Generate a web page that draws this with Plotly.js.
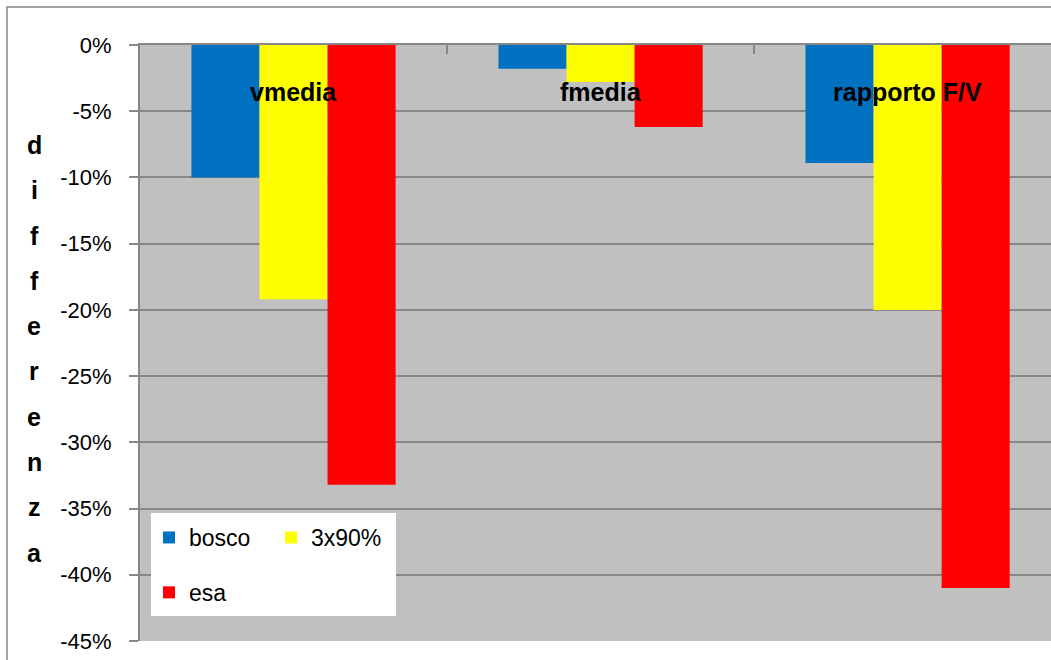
<!DOCTYPE html>
<html>
<head>
<meta charset="utf-8">
<script src="https://cdn.plot.ly/plotly-3.0.1.min.js"></script>
<style>html,body{margin:0;padding:0;background:#fff;}#chart{width:1051px;height:660px;}</style>
</head>
<body>
<div id="chart"></div>
<script>
// ---- data (values in %) ----
const categories = ['vmedia', 'fmedia', 'rapporto F/V'];
const seriesNames = ['bosco', '3x90%', 'esa'];
const bosco = [-10.0, -1.8, -8.9];
const tre90 = [-19.2, -2.8, -20.0];
const esa = [-33.2, -6.2, -41.0];
const yTickVals = [0, -5, -10, -15, -20, -25, -30, -35, -40, -45];
const yTickText = ['0%', '-5%', '-10%', '-15%', '-20%', '-25%', '-30%', '-35%', '-40%', '-45%'];
const yTitle = 'differenza';

const colors = ['#0070C0', '#FFFF00', '#FF0000'];
const FONT = 'Liberation Sans, Arial, sans-serif';

const traces = [
  {type: 'bar', name: seriesNames[0], x: categories, y: bosco, marker: {color: colors[0], line: {width: 0}},
   legend: 'legend', legendgroup: 'g1'},
  {type: 'bar', name: seriesNames[1], x: categories, y: tre90, marker: {color: colors[1], line: {width: 0}},
   legend: 'legend2', legendgroup: 'g2'},
  {type: 'bar', name: seriesNames[2], x: categories, y: esa, marker: {color: colors[2], line: {width: 0}},
   legend: 'legend', legendgroup: 'g3'}
];
traces.forEach(t => { t.hoverinfo = 'skip'; });

// plot area geometry
const W = 1051, H = 660, ML = 140, MR = 0, MT = 45, MB = 19;
const PW = W - ML - MR, PH = H - MT - MB;
const px2x = px => (px - ML) / PW;
const py2y = py => (H - MB - py) / PH;

const annotations = [];
// category labels inside plot near top
categories.forEach(c => {
  annotations.push({x: c, y: -3.55, xref: 'x', yref: 'y', text: c, showarrow: false,
    xanchor: 'center', yanchor: 'middle',
    font: {family: FONT, size: 25, color: '#000', weight: 'bold'}});
});
// vertical stacked y-axis title
const letters = yTitle.split('');
letters.forEach((ch, i) => {
  annotations.push({x: px2x(34), y: py2y(145 + i * 45.3), xref: 'paper', yref: 'paper', text: ch,
    showarrow: false, xanchor: 'center', yanchor: 'middle',
    font: {family: FONT, size: 25, color: '#000', weight: 'bold'}});
});

const layout = {
  width: W, height: H,
  margin: {l: ML, r: MR, t: MT, b: MB, pad: 0},
  paper_bgcolor: '#ffffff',
  plot_bgcolor: '#C0C0C0',
  barmode: 'group',
  bargap: 0.335,
  bargroupgap: 0,
  font: {family: FONT, size: 22, color: '#000'},
  xaxis: {
    type: 'category', range: [-0.5, 2.467], side: 'top', anchor: 'y',
    showline: true, linecolor: '#878787', linewidth: 2,
    ticks: 'inside', ticklen: 9, tickwidth: 2, tickcolor: '#878787', tickson: 'boundaries',
    showticklabels: false, showgrid: false, zeroline: false, fixedrange: true
  },
  yaxis: {
    range: [-45, 0], tickvals: yTickVals, ticktext: yTickText,
    showline: true, linecolor: '#878787', linewidth: 2,
    ticks: 'outside', ticklen: 9, tickwidth: 2, tickcolor: '#878787',
    ticklabelstandoff: 13,
    showgrid: true, gridcolor: '#878787', gridwidth: 2,
    zeroline: false, fixedrange: true,
    tickfont: {family: FONT, size: 22, color: '#000'}
  },
  showlegend: true,
  legend: {
    x: px2x(149), y: py2y(516), xanchor: 'left', yanchor: 'top', xref: 'paper', yref: 'paper',
    orientation: 'v', traceorder: 'grouped', tracegroupgap: 22,
    bgcolor: 'rgba(0,0,0,0)', borderwidth: 0,
    font: {family: FONT, size: 23, color: '#000'}
  },
  legend2: {
    x: px2x(271), y: py2y(516), xanchor: 'left', yanchor: 'top', xref: 'paper', yref: 'paper',
    orientation: 'v', bgcolor: 'rgba(0,0,0,0)', borderwidth: 0,
    font: {family: FONT, size: 23, color: '#000'}
  },
  shapes: [
    // white legend box
    {type: 'rect', xref: 'paper', yref: 'paper', x0: px2x(151), x1: px2x(396), y0: py2y(616), y1: py2y(513),
     fillcolor: '#ffffff', line: {width: 0}, layer: 'above'},
    // outer chart border
    {type: 'rect', xref: 'paper', yref: 'paper', x0: px2x(7), x1: px2x(1100), y0: py2y(700), y1: py2y(7),
     fillcolor: 'rgba(0,0,0,0)', line: {color: '#878787', width: 1.5}, layer: 'above'}
  ],
  annotations: annotations
};

Plotly.newPlot('chart', traces, layout, {displayModeBar: false, staticPlot: true});
</script>
</body>
</html>
